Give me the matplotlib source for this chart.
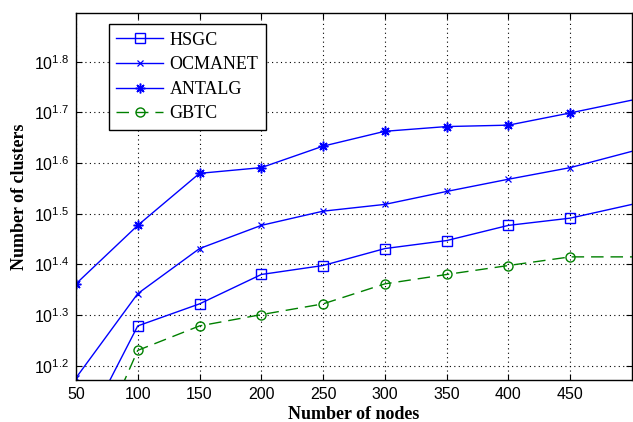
import matplotlib
matplotlib.use("Agg")
import matplotlib.pyplot as plt
from matplotlib.ticker import NullLocator, FixedLocator
import numpy as np

plt.rcParams['mathtext.fontset'] = 'custom'
plt.rcParams['mathtext.rm'] = 'Liberation Sans'
plt.rcParams['mathtext.it'] = 'Liberation Sans'

nodes = [50, 100, 150, 200, 250, 300, 350, 400, 450, 500]
hsgc = [11, 19, 21, 24, 25, 27, 28, 30, 31, 33]
ocmanet = [15, 22, 27, 30, 32, 33, 35, 37, 39, 42]
antalg = [23, 30, 38, 39, 43, 46, 47, 47.3, 50, 53]
gbtc = [9, 17, 19, 20, 21, 23, 24, 25, 26, 26]

xticks = [50, 100, 150, 200, 250, 300, 350, 400, 450]
yexp = [1.2, 1.3, 1.4, 1.5, 1.6, 1.7, 1.8]
ytick_labels = [r'$10^{%.1f}$' % e for e in yexp]

fig = plt.figure(figsize=(6.33, 4.22), dpi=100)
ax = fig.add_axes([0.120, 0.0995, 0.8784, 0.8695])

blue = (0, 0, 1)
green = (0, 0.5, 0)
mk = slice(0, len(nodes) - 1)
ax.plot(nodes, hsgc, '-', color=blue, lw=1, marker='s', ms=6.5, mfc='none', mew=1,
        markevery=mk, label='HSGC')
ax.plot(nodes, ocmanet, '-', color=blue, lw=1, marker='x', ms=4, mew=0.9,
        markevery=mk, label='OCMANET')
ax.plot(nodes, antalg, '-', color=blue, lw=1, marker=(8, 2, 0), ms=7, mew=1.1,
        markevery=mk, label='ANTALG')
ax.plot(nodes, gbtc, '--', color=green, lw=1, dashes=(9, 5), marker='o', ms=6.5, mfc='none', mew=1,
        markevery=mk, label='GBTC')

ax.set_yscale('log')
ax.set_xlim(50, 500)
ax.set_ylim(10**1.172, 10**1.896)
ax.xaxis.set_major_locator(FixedLocator(xticks))
ax.set_xticklabels([str(x) for x in xticks], fontsize=11.5, family='Liberation Sans')
ax.yaxis.set_major_locator(FixedLocator([10**e for e in yexp]))
ax.yaxis.set_minor_locator(NullLocator())
ax.set_yticklabels(ytick_labels, fontsize=11.5)
ax.tick_params(direction='in', top=True, right=True, length=4, width=0.8, pad=5)
ax.grid(True, which='major', color='black', linestyle=(0, (1, 3)), linewidth=0.8)
for s in ax.spines.values():
    s.set_linewidth(1)

ax.set_xlabel('Number of nodes', fontsize=13, fontweight='bold', family='Liberation Serif', labelpad=3)
ax.set_ylabel('Number of clusters', fontsize=13, fontweight='bold', family='Liberation Serif', labelpad=4)

leg = ax.legend(loc='upper left', bbox_to_anchor=(0.059, 0.970), borderaxespad=0, numpoints=1,
                prop={'family': 'Liberation Serif', 'size': 13}, fancybox=False,
                edgecolor='black', framealpha=1, handlelength=2.6, borderpad=0.42,
                labelspacing=0.42, handletextpad=0.35)
leg.get_frame().set_linewidth(1)

fig.savefig('out.png', dpi=100)
